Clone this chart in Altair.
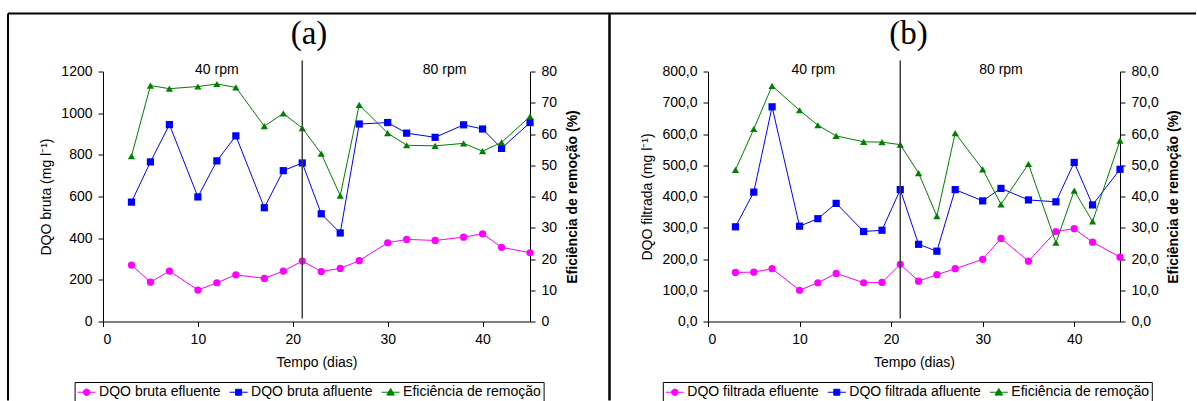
import altair as alt
import pandas as pd

# Dias de operação em que as amostras foram coletadas
dias = [3, 5, 7, 10, 12, 14, 17, 19, 21, 23, 25, 27, 30, 32, 35, 38, 40, 42, 45]

# (a) DQO bruta (mg/l) e eficiência de remoção (%)
bruta_efluente = [271, 189, 242, 151, 186, 224, 207, 242, 290, 240, 255, 292, 378, 394, 389, 405, 421, 356, 330]
bruta_afluente = [573, 766, 945, 598, 771, 891, 546, 724, 761, 517, 425, 948, 955, 904, 884, 944, 924, 831, 955]
bruta_eficiencia = [52.9, 75.5, 74.5, 75.2, 76.0, 74.9, 62.5, 66.6, 61.9, 53.7, 40.3, 69.3, 60.3, 56.4, 56.2, 57.0, 54.5, 57.3, 65.6]

# (b) DQO filtrada (mg/l) e eficiência de remoção (%)
filtrada_efluente = [157, 158, 169, 100, 124, 154, 124, 125, 183, 129, 150, 169, 199, 266, 193, 288, 297, 254, 206]
filtrada_afluente = [303, 414, 687, 305, 329, 378, 288, 292, 422, 247, 225, 422, 386, 426, 389, 383, 509, 373, 487]
filtrada_eficiencia = [48.5, 61.6, 75.4, 67.6, 62.8, 59.4, 57.5, 57.4, 56.6, 47.5, 33.7, 60.3, 48.7, 37.5, 50.4, 25.2, 41.9, 32.0, 57.9]

# Mudança de rotação do agitador
dia_mudanca = [21]
rotulos_rpm = ["40 rpm", "80 rpm"]

FONTE = "Liberation Sans"
CORES = ["#FF00FF", "#0000FF", "#008000"]
FORMAS = ["circle", "square", "triangle-up"]
# Símbolos da legenda: traço com o marcador no meio (desenhados um pouco
# além da caixa do símbolo, para a linha da legenda ficar baixa)
SIMBOLOS = [
    "M-1,0H1.571M-0.174,0A0.46,0.46,0,1,1,0.746,0A0.46,0.46,0,1,1,-0.174,0Z",
    "M-1,0H1.571M-0.144,-0.43H0.716V0.43H-0.144Z",
    "M-1,0H1.571M0.286,-0.54L0.826,0.41H-0.254Z",
]

EIXO = dict(
    domainColor="black", tickColor="black", labelColor="black", titleColor="black",
    labelFont=FONTE, labelFontSize=14, titleFont=FONTE, titleFontSize=14,
    titleFontWeight="normal", grid=False, tickSize=5, labelPadding=6,
)
ALTURA = 250


def rotulo(casas):
    if casas:
        return f"replace(format(datum.value, '.{casas}f'), '.', ',')"
    return "format(datum.value, 'd')"


def painel(letra, nomes, efl, afl, efi, ymax, ypasso, casas, largura, titulo_y,
           pos_rpm, x_titulo, x_legenda, x_tit_esq, x_tit_dir, linhas_quadro):
    df = pd.DataFrame({"dia": dias, "efl": efl, "afl": afl, "efi": efi})

    x = alt.X(
        "dia:Q",
        scale=alt.Scale(domain=[0, 45], nice=False, zero=False),
        axis=alt.Axis(values=[0, 10, 20, 30, 40], title="Tempo (dias)", titlePadding=9, **EIXO),
    )

    eixo_esq = dict(EIXO)
    eixo_esq.update(
        values=list(range(0, ymax + 1, ypasso)), title=titulo_y, labelExpr=rotulo(casas),
        titleAngle=270, titleX=x_tit_esq, titleY=ALTURA / 2,
        titleAlign="center", titleBaseline="middle",
    )
    escala_esq = alt.Scale(domain=[0, ymax], nice=False)

    eixo_dir = dict(EIXO)
    eixo_dir.update(
        orient="right", values=list(range(0, 81, 10)), title="Eficiência de remoção (%)",
        labelExpr=rotulo(casas), titleFontWeight="bold", titleAngle=270,
        titleX=x_tit_dir, titleY=ALTURA / 2, titleAlign="center", titleBaseline="middle",
    )
    escala_dir = alt.Scale(domain=[0, 80], nice=False)

    base = alt.Chart(df)

    def serie(campo, escala, eixo, cor, forma):
        enc = base.encode(x=x, y=alt.Y(f"{campo}:Q", scale=escala, axis=alt.Axis(**eixo)))
        linha = enc.mark_line(color=cor, strokeWidth=1)
        pontos = enc.mark_point(shape=forma, filled=True, size=52, color=cor, opacity=1)
        return linha + pontos

    esquerdo = alt.layer(
        serie("efl", escala_esq, eixo_esq, CORES[0], FORMAS[0]),
        serie("afl", escala_esq, eixo_esq, CORES[1], FORMAS[1]),
    )
    direito = serie("efi", escala_dir, eixo_dir, CORES[2], FORMAS[2])

    linha_mudanca = alt.Chart(pd.DataFrame({"dia": dia_mudanca})).mark_rule(
        color="#404040", strokeWidth=1.5
    ).encode(x=x, y=alt.value(-11), y2=alt.value(ALTURA - 3))

    textos_rpm = alt.Chart(pd.DataFrame({"dia": pos_rpm, "rotulo": rotulos_rpm})).mark_text(
        font=FONTE, fontSize=14, color="black", baseline="middle", align="center"
    ).encode(x=x, y=alt.value(-2), text="rotulo:N")

    um = pd.DataFrame({"k": [0]})
    titulo = alt.Chart(um).mark_text(
        text=letra, font="Liberation Serif", fontSize=33, color="black",
        baseline="alphabetic", align="center",
    ).encode(x=alt.value(x_titulo), y=alt.value(-28))

    # moldura do painel: segmentos (x1, y1, x2, y2, espessura)
    quadro = [
        alt.Chart(um).mark_rule(color="black", strokeWidth=w).encode(
            x=alt.value(x1), x2=alt.value(x2), y=alt.value(y1), y2=alt.value(y2)
        )
        for (x1, y1, x2, y2, w) in linhas_quadro
    ]

    leg = alt.Legend(
        title=None, orient="none", legendX=x_legenda, legendY=310.5,
        direction="horizontal", columns=3, strokeColor="black", padding=2.5,
        labelFont=FONTE, labelFontSize=14, labelColor="black", labelOffset=7,
        columnPadding=6, symbolSize=196, symbolStrokeWidth=1,
    )
    legenda = base.transform_filter("false").mark_point(
        filled=True, strokeWidth=1, opacity=1
    ).encode(
        shape=alt.Shape("serie:N", scale=alt.Scale(domain=nomes, range=SIMBOLOS), legend=leg),
        fill=alt.Fill("serie:N", scale=alt.Scale(domain=nomes, range=CORES), legend=leg),
        stroke=alt.Stroke("serie:N", scale=alt.Scale(domain=nomes, range=CORES), legend=leg),
    )

    return alt.layer(
        *quadro, titulo, esquerdo, direito, linha_mudanca, textos_rpm, legenda
    ).resolve_scale(y="independent").properties(width=largura, height=ALTURA)


painel_a = painel(
    "(a)", ["DQO bruta efluente", "DQO bruta afluente", "Eficiência de remoção"],
    bruta_efluente, bruta_afluente, bruta_eficiencia,
    1200, 200, 0, 427, "DQO bruta (mg l⁻¹)", [12, 36], 206, -28.4, -57, 42,
    [(-95, -58, 507, -58, 2), (-95, -58, -95, 329, 2), (506.5, -58, 506.5, 329, 2.5)],
)
painel_b = painel(
    "(b)", ["DQO filtrada efluente", "DQO filtrada afluente", "Eficiência de remoção"],
    filtrada_efluente, filtrada_afluente, filtrada_eficiencia,
    800, 100, 1, 412, "DQO filtrada (mg l⁻¹)", [11.5, 32], 200.5, -45.2, -60.4, 53.3,
    [(-98.5, -58, 488, -58, 2)],
)

chart = alt.hconcat(painel_a, painel_b, spacing=178, bounds="flush").resolve_scale(
    fill="independent", stroke="independent", shape="independent"
).resolve_legend(
    fill="independent", stroke="independent", shape="independent"
).properties(
    padding={"left": 7, "top": 11.5, "right": 0, "bottom": 0}, background="white"
).configure_view(strokeWidth=0)

chart.save("out.html", embed_options={"renderer": "svg", "actions": False})
